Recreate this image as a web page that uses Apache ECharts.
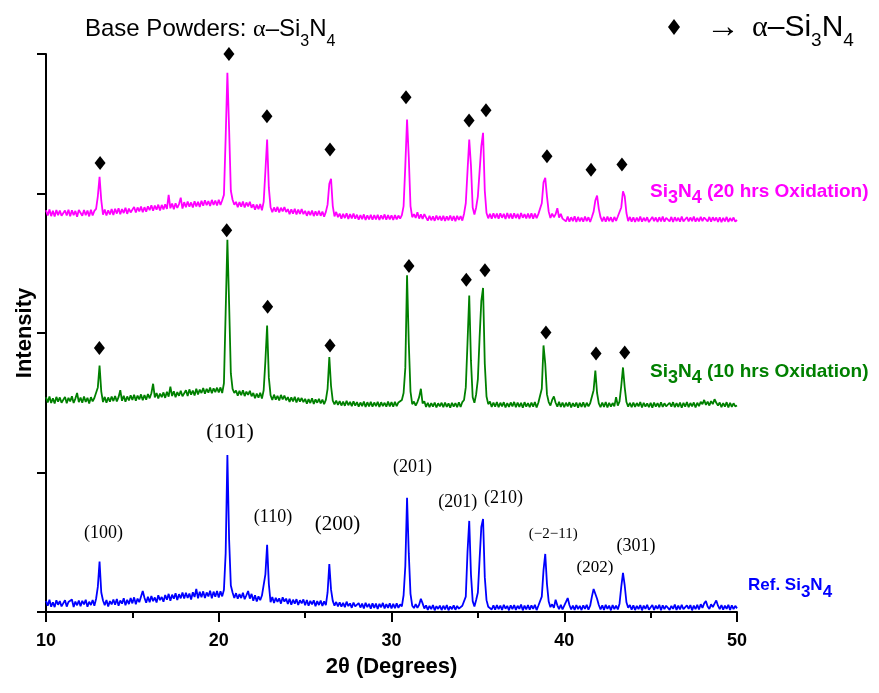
<!DOCTYPE html>
<html>
<head>
<meta charset="utf-8">
<script src="https://cdn.jsdelivr.net/npm/echarts@6/dist/echarts.min.js"></script>
<style>
  html, body { margin: 0; padding: 0; background: #ffffff; }
  #chart { width: 879px; height: 693px; }
</style>
</head>
<body>
<div id="chart"></div>
<script>
// XRD scans, 2θ from 10° to 50° in 0.1° steps (counts, arbitrary units)
const ANGLE_START = 10;
const ANGLE_STEP = 0.1;

// Reference α-Si3N4 powder
const refCounts = [
  80, 45, 88, 38, 70, 35, 84, 52, 78, 40,
  46, 85, 39, 72, 58, 90, 36, 75, 48, 82,
  42, 80, 55, 88, 37, 74, 50, 86, 44, 95,
  180, 361, 140, 82, 48, 86, 40, 78, 55, 90,
  52, 94, 45, 82, 60, 98, 48, 88, 57, 100,
  62, 105, 55, 96, 70, 58, 150, 102, 66, 110,
  70, 115, 78, 104, 68, 120, 85, 108, 74, 122,
  88, 130, 80, 124, 95, 135, 86, 128, 98, 140,
  96, 138, 100, 132, 90, 142, 108, 165, 98, 145,
  105, 148, 100, 140, 112, 152, 98, 146, 110, 150,
  104, 148, 112, 160, 420, 1126, 520, 190, 140, 100,
  135, 95, 128, 100, 138, 92, 120, 150, 96, 130,
  80, 120, 76, 112, 85, 118, 130, 270, 481, 200,
  70, 108, 64, 102, 72, 98, 60, 105, 75, 96,
  58, 95, 52, 88, 60, 92, 50, 84, 62, 90,
  48, 86, 45, 80, 55, 84, 42, 78, 50, 82,
  44, 76, 50, 140, 344, 160, 80, 45, 72, 40,
  70, 38, 66, 35, 74, 42, 62, 30, 68, 40,
  28, 64, 32, 60, 25, 66, 35, 58, 24, 62,
  30, 60, 22, 58, 34, 65, 26, 56, 30, 62,
  25, 58, 28, 62, 30, 55, 40, 120, 330, 818,
  420, 130, 45, 28, 56, 30, 52, 95, 62, 25,
  48, 15, 44, 20, 50, 12, 42, 22, 46, 14,
  45, 18, 50, 12, 40, 20, 48, 16, 44, 24,
  12, 45, 40, 110, 430, 653, 270, 78, 40, 86,
  140, 380, 610, 667, 250, 85, 38, 52, 18, 48,
  16, 50, 20, 46, 14, 52, 24, 44, 12, 48,
  20, 50, 15, 45, 22, 54, 12, 46, 18, 50,
  16, 48, 22, 52, 14, 45, 35, 110, 300, 416,
  200, 75, 35, 55, 30, 88, 48, 20, 52, 18,
  45, 72, 100, 50, 18, 46, 15, 50, 20, 44,
  14, 48, 22, 52, 16, 45, 110, 165, 172, 95,
  50, 18, 48, 15, 52, 22, 46, 12, 50, 20,
  46, 18, 60, 180, 280, 190, 70, 30, 50, 16,
  48, 14, 44, 20, 50, 12, 46, 22, 52, 16,
  18, 50, 14, 46, 22, 52, 12, 48, 20, 45,
  50, 15, 44, 22, 54, 14, 46, 18, 52, 20,
  16, 48, 22, 50, 12, 46, 20, 52, 18, 56,
  30, 62, 78, 40, 22, 55, 35, 60, 82, 45,
  20, 50, 16, 46, 22, 52, 14, 48, 20, 44,
  26
];

// Si3N4 after 10 hrs oxidation
const oxid10Counts = [
  90, 52, 95, 48, 82, 45, 92, 58, 88, 50,
  55, 92, 46, 85, 60, 96, 48, 80, 120, 54,
  88, 50, 94, 56, 86, 44, 90, 60, 84, 92,
  160, 317, 130, 55, 92, 50, 88, 58, 95, 62,
  98, 60, 90, 140, 64, 100, 58, 95, 66, 104,
  70, 108, 65, 102, 74, 110, 68, 106, 72, 112,
  82, 118, 186, 88, 120, 80, 116, 90, 124, 85,
  128, 94, 165, 98, 132, 90, 126, 100, 136, 96,
  104, 140, 98, 146, 108, 138, 102, 150, 110, 144,
  120, 156, 114, 150, 122, 160, 118, 154, 126, 158,
  124, 160, 120, 190, 700, 1219, 760, 260, 150, 120,
  138, 100, 135, 104, 140, 98, 130, 106, 136, 96,
  120, 82, 116, 86, 122, 80, 140, 350, 604, 230,
  104, 70, 108, 72, 100, 66, 106, 74, 102, 68,
  90, 56, 88, 60, 92, 52, 86, 58, 84, 54,
  78, 44, 76, 48, 82, 42, 74, 50, 78, 46,
  72, 40, 70, 150, 377, 170, 65, 38, 66, 34,
  62, 30, 58, 28, 64, 32, 56, 26, 60, 30,
  55, 22, 52, 26, 58, 20, 54, 24, 56, 22,
  52, 25, 56, 20, 54, 26, 50, 22, 58, 24,
  54, 22, 56, 25, 52, 40, 70, 120, 300, 963,
  480, 130, 40, 58, 30, 55, 90, 150, 45, 60,
  20, 50, 18, 48, 22, 52, 16, 46, 24, 50,
  18, 52, 20, 46, 15, 50, 22, 48, 18, 54,
  20, 55, 70, 160, 480, 819, 350, 90, 50, 110,
  220, 520, 780, 873, 330, 95, 40, 58, 20, 52,
  22, 55, 18, 50, 24, 54, 16, 48, 20, 52,
  24, 56, 18, 52, 20, 50, 14, 54, 22, 48,
  18, 52, 22, 55, 16, 50, 40, 150, 461, 330,
  110, 55, 30, 70, 95, 50, 22, 56, 20, 52,
  18, 50, 24, 54, 16, 48, 22, 52, 15, 50,
  20, 54, 18, 50, 24, 46, 60, 140, 281, 120,
  45, 18, 52, 20, 55, 16, 50, 22, 48, 24,
  90, 30, 60, 170, 303, 160, 55, 22, 50, 18,
  52, 20, 48, 24, 55, 16, 50, 22, 46, 18,
  50, 15, 52, 22, 48, 18, 54, 20, 46, 24,
  16, 50, 22, 54, 18, 48, 20, 52, 14, 50,
  22, 55, 18, 48, 24, 52, 16, 50, 26, 56,
  40, 70, 35, 58, 30, 62, 40, 75, 50, 30,
  52, 18, 48, 22, 54, 16, 50, 20, 46, 24,
  30
];

// Si3N4 after 20 hrs oxidation
const oxid20Counts = [
  100, 62, 105, 58, 96, 55, 102, 64, 98, 60,
  58, 98, 62, 104, 56, 100, 65, 95, 54, 102,
  96, 60, 102, 64, 98, 56, 104, 62, 95, 110,
  200, 339, 170, 68, 105, 62, 100, 70, 108, 66,
  110, 76, 114, 72, 108, 80, 118, 74, 112, 84,
  88, 124, 84, 120, 92, 126, 86, 122, 90, 128,
  100, 136, 96, 134, 104, 140, 98, 138, 106, 142,
  110, 210, 114, 148, 108, 150, 116, 144, 190, 112,
  158, 122, 162, 126, 156, 120, 164, 128, 160, 124,
  168, 132, 172, 136, 166, 130, 174, 138, 170, 134,
  175, 138, 172, 210, 620, 1085, 680, 240, 175, 140,
  160, 122, 158, 126, 162, 120, 156, 128, 160, 118,
  142, 104, 140, 108, 144, 100, 160, 380, 607, 260,
  122, 86, 120, 90, 124, 84, 118, 92, 122, 88,
  108, 72, 106, 76, 110, 70, 104, 74, 108, 72,
  96, 60, 94, 64, 98, 58, 92, 62, 96, 60,
  90, 54, 88, 140, 290, 325, 130, 56, 88, 50,
  76, 40, 74, 44, 78, 38, 72, 42, 76, 40,
  68, 32, 66, 36, 70, 30, 64, 34, 68, 32,
  66, 34, 68, 30, 64, 36, 70, 32, 66, 35,
  64, 30, 66, 34, 62, 40, 65, 130, 420, 750,
  480, 130, 50, 72, 45, 85, 40, 70, 38, 72,
  58, 25, 60, 28, 56, 24, 62, 30, 58, 26,
  60, 24, 56, 28, 62, 26, 58, 22, 60, 30,
  58, 26, 75, 150, 380, 607, 420, 120, 70, 120,
  200, 380, 560, 655, 240, 80, 42, 75, 40, 78,
  44, 76, 40, 78, 46, 74, 38, 80, 42, 76,
  40, 78, 44, 74, 38, 80, 46, 72, 42, 76,
  42, 78, 40, 76, 44, 72, 80, 150, 300, 332,
  200, 90, 45, 76, 50, 72, 115, 48, 74, 40,
  52, 20, 54, 18, 50, 22, 56, 16, 52, 20,
  48, 18, 54, 22, 50, 16, 52, 90, 170, 205,
  110, 50, 20, 52, 18, 54, 22, 50, 16, 52,
  24, 55, 55, 120, 236, 200, 80, 22, 52, 18,
  50, 16, 48, 20, 54, 18, 46, 22, 50, 15,
  18, 52, 22, 48, 16, 50, 20, 54, 18, 46,
  48, 20, 52, 16, 50, 22, 46, 18, 54, 20,
  16, 50, 20, 48, 22, 54, 18, 46, 20, 52,
  22, 48, 55, 20, 52, 18, 50, 24, 48, 16,
  50, 14, 46, 20, 52, 16, 44, 22, 48, 18,
  30
];

// Vertical stacking offsets of the oxidised scans
const OFFSET_10H = 1450;
const OFFSET_20H = 2780;

// α-Si3N4 peak markers (2θ, plotted intensity)
const markers20Angles = [13.13, 20.59, 22.79, 26.44, 30.84, 34.49, 35.47, 39.0, 41.55, 43.34];
const markers20Heights = [3219, 4000, 3554, 3315, 3690, 3523, 3597, 3267, 3171, 3207];
const markers10Angles = [13.09, 20.46, 22.83, 26.44, 31.01, 34.33, 35.41, 38.94, 41.84, 43.50];
const markers10Heights = [1892, 2736, 2188, 1911, 2480, 2382, 2449, 2004, 1853, 1860];

// Miller indices of the reference reflections (label anchor: 2θ, intensity)
const hklNames = ['(100)', '(101)', '(110)', '(200)', '(201)', '(201)', '(210)', '(\u22122\u221211)', '(202)', '(301)'];
const hklAngles = [13.33, 20.65, 23.14, 26.88, 31.22, 33.84, 36.48, 39.36, 41.78, 44.15];
const hklHeights = [567, 1292, 682, 625, 1040, 789, 818, 560, 316, 474];

// Axis ranges
const X_MIN = 10, X_MAX = 50, X_INTERVAL = 10;
const Y_MIN = 0, Y_MAX = 4000, Y_INTERVAL = 1000;

const COLOR_REF = '#0000ff';
const COLOR_10H = '#008000';
const COLOR_20H = '#ff00ff';

function toPairs(counts, offset) {
  return counts.map((c, i) => [+(ANGLE_START + i * ANGLE_STEP).toFixed(1), c + offset]);
}

const hklFontSizes = [18, 22, 18, 21, 18, 18, 18, 15, 17, 18];

// Text made of pieces (for subscripts), laid out with measured widths
const measureCtx = document.createElement('canvas').getContext('2d');
function composeText(x, baseline, parts, fill) {
  const els = [];
  let cx = x;
  parts.forEach(p => {
    const font = (p.weight || 'normal') + ' ' + p.size + 'px ' + p.family;
    measureCtx.font = font;
    const w = measureCtx.measureText(p.t).width;
    els.push({
      type: 'text',
      x: cx,
      y: baseline + (p.dy || 0) - 0.3 * p.size,
      silent: true,
      style: { text: p.t, font: font, fill: fill, align: 'left', verticalAlign: 'middle' }
    });
    cx += w + (p.gap || 0);
  });
  return els;
}

const SANS = '"Liberation Sans", Arial, sans-serif';
const SERIF = '"Liberation Serif", "Times New Roman", serif';

function formulaLabel(x, baseline, prefix, suffix, size, subSize, subDy, fill) {
  const parts = [];
  if (prefix) parts.push({ t: prefix, size, family: SANS, weight: 'bold' });
  parts.push({ t: 'Si', size, family: SANS, weight: 'bold' });
  parts.push({ t: '3', size: subSize, family: SANS, weight: 'bold', dy: subDy });
  parts.push({ t: 'N', size, family: SANS, weight: 'bold' });
  parts.push({ t: '4', size: subSize, family: SANS, weight: 'bold', dy: subDy });
  if (suffix) parts.push({ t: suffix, size, family: SANS, weight: 'bold' });
  return composeText(x, baseline, parts, fill);
}

const graphics = [].concat(
  composeText(85, 37, [
    { t: 'Base Powders: ', size: 24, family: SANS },
    { t: '\u03b1', size: 24, family: SERIF },
    { t: '\u2013Si', size: 24, family: SANS },
    { t: '3', size: 16, family: SANS, dy: 9 },
    { t: 'N', size: 24, family: SANS },
    { t: '4', size: 16, family: SANS, dy: 9 }
  ], '#000000'),
  [{
    type: 'polygon',
    silent: true,
    shape: { points: [[674, 19], [680, 27], [674, 35], [668, 27]] },
    style: { fill: '#000000' }
  }],
  composeText(706, 38, [
    { t: '\u2192', size: 34, family: SERIF }
  ], '#000000'),
  composeText(752, 37, [
    { t: '\u03b1', size: 30, family: SERIF },
    { t: '\u2013Si', size: 30, family: SANS },
    { t: '3', size: 19, family: SANS, dy: 9 },
    { t: 'N', size: 30, family: SANS },
    { t: '4', size: 19, family: SANS, dy: 9 }
  ], '#000000'),
  formulaLabel(650, 197, '', ' (20 hrs Oxidation)', 19, 18, 6, COLOR_20H),
  formulaLabel(650, 377, '', ' (10 hrs Oxidation)', 19, 18, 6, COLOR_10H),
  formulaLabel(748, 590, 'Ref. ', '', 17, 17, 7, COLOR_REF)
);

const chart = echarts.init(document.getElementById('chart'), null, { renderer: 'canvas' });

const lineSeries = (name, counts, offset, color) => ({
  name: name,
  type: 'line',
  data: toPairs(counts, offset),
  showSymbol: false,
  symbol: 'none',
  lineStyle: { color: color, width: 1.8, opacity: 1 },
  itemStyle: { color: color },
  silent: true,
  z: 2
});

const markerSeries = (angles, heights) => ({
  type: 'scatter',
  data: angles.map((a, i) => [a, heights[i]]),
  symbol: 'diamond',
  symbolSize: [11, 14],
  itemStyle: { color: '#000000', opacity: 1 },
  clip: false,
  silent: true,
  z: 4
});

chart.setOption({
  animation: false,
  backgroundColor: '#ffffff',
  grid: { left: 46, right: 142, top: 54, bottom: 81, containLabel: false },
  xAxis: {
    type: 'value',
    min: X_MIN,
    max: X_MAX,
    interval: X_INTERVAL,
    name: '2\u03b8 (Degrees)',
    nameLocation: 'middle',
    nameGap: 44,
    nameTextStyle: { fontFamily: SANS, fontWeight: 'bold', fontSize: 22, color: '#000000' },
    axisLine: { show: true, onZero: false, lineStyle: { color: '#000000', width: 2 } },
    axisTick: { show: true, inside: false, length: 10, lineStyle: { color: '#000000', width: 2 } },
    minorTick: { show: true, splitNumber: 2, length: 6, lineStyle: { color: '#000000', width: 2 } },
    axisLabel: { fontFamily: SANS, fontWeight: 'bold', fontSize: 18, color: '#000000', margin: 20 },
    splitLine: { show: false }
  },
  yAxis: {
    type: 'value',
    min: Y_MIN,
    max: Y_MAX,
    interval: Y_INTERVAL,
    name: 'Intensity',
    nameLocation: 'middle',
    nameGap: 10,
    nameTextStyle: { fontFamily: SANS, fontWeight: 'bold', fontSize: 22, color: '#000000' },
    axisLine: { show: true, onZero: false, lineStyle: { color: '#000000', width: 2 } },
    axisTick: { show: true, inside: false, length: 9, lineStyle: { color: '#000000', width: 2 } },
    axisLabel: { show: false },
    splitLine: { show: false }
  },
  series: [
    lineSeries('Si3N4 (20 hrs Oxidation)', oxid20Counts, OFFSET_20H, COLOR_20H),
    lineSeries('Si3N4 (10 hrs Oxidation)', oxid10Counts, OFFSET_10H, COLOR_10H),
    lineSeries('Ref. Si3N4', refCounts, 0, COLOR_REF),
    markerSeries(markers20Angles, markers20Heights),
    markerSeries(markers10Angles, markers10Heights),
    {
      type: 'scatter',
      data: hklNames.map((n, i) => ({
        name: n,
        value: [hklAngles[i], hklHeights[i]],
        label: { fontSize: hklFontSizes[i] }
      })),
      symbolSize: 0,
      silent: true,
      clip: false,
      itemStyle: { opacity: 1 },
      label: {
        show: true,
        position: 'inside',
        formatter: '{b}',
        fontFamily: SERIF,
        color: '#000000'
      },
      z: 5
    }
  ],
  graphic: graphics
});
</script>
</body>
</html>
